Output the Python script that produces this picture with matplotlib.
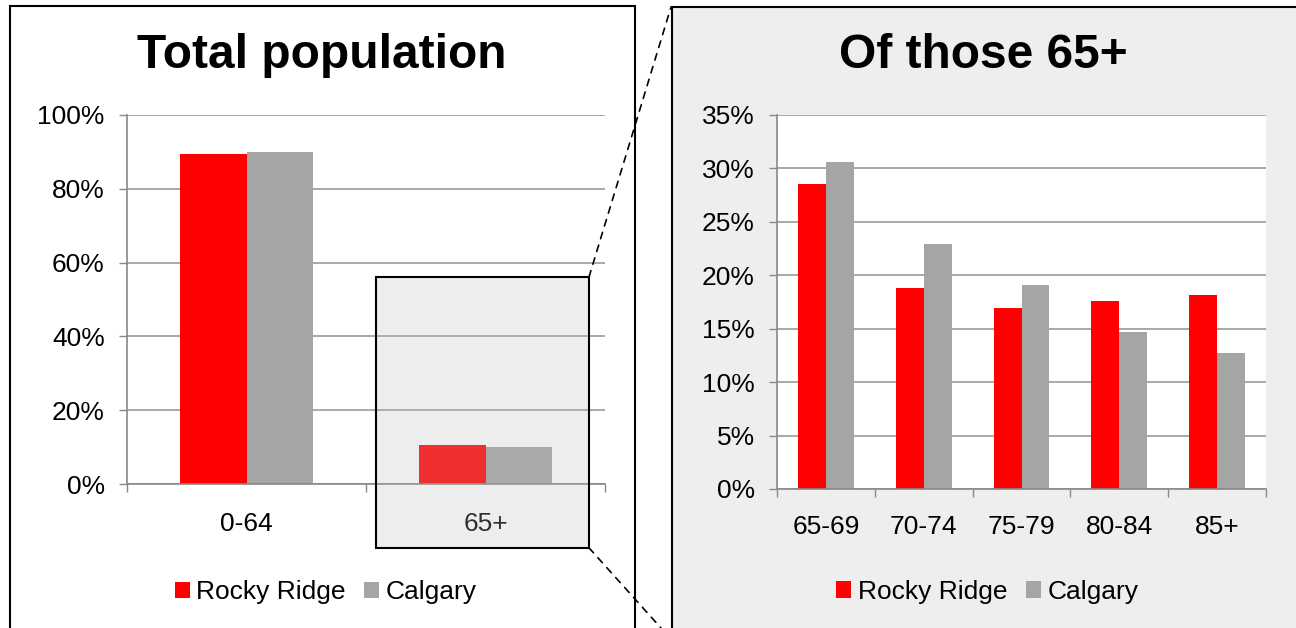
import matplotlib
matplotlib.use("Agg")
import matplotlib.pyplot as plt
from matplotlib.patches import Rectangle, ConnectionPatch
from matplotlib.ticker import PercentFormatter, FixedLocator
import numpy as np

plt.rcParams["font.family"] = ["Liberation Sans", "DejaVu Sans"]

# data
series = ["Rocky Ridge", "Calgary"]
colors = ["#FF0000", "#A5A5A5"]

total_groups = ["0-64", "65+"]
total_rocky = [89.5, 10.5]
total_calgary = [90.0, 10.0]

senior_groups = ["65-69", "70-74", "75-79", "80-84", "85+"]
senior_rocky = [28.5, 18.8, 16.9, 17.6, 18.2]
senior_calgary = [30.6, 22.9, 19.1, 14.7, 12.7]

W, H = 1296, 628
fig = plt.figure(figsize=(W / 100, H / 100), dpi=100)


def px_axes(x0, y0, x1, y1):
    return fig.add_axes([x0 / W, 1 - y1 / H, (x1 - x0) / W, (y1 - y0) / H])


def fig_rect(x0, y0, x1, y1, **kw):
    r = Rectangle((x0 / W, 1 - y1 / H), (x1 - x0) / W, (y1 - y0) / H,
                  transform=fig.transFigure, zorder=-5, **kw)
    fig.add_artist(r)


# panel frames
fig_rect(10, 6, 635, 650, facecolor="white", edgecolor="black", lw=1.5)
fig_rect(672, 7, 1310, 650, facecolor="#EEEEEE", edgecolor="black", lw=1.5)


def style_bars(ax, groups, rocky, calgary, ymax, step, tick_pad, leg_x, leg_y):
    x = np.arange(len(groups))
    bw = 0.28 if len(groups) == 2 else 0.285
    ax.bar(x - bw / 2, rocky, bw, color=colors[0], label=series[0], zorder=2)
    ax.bar(x + bw / 2, calgary, bw, color=colors[1], label=series[1], zorder=2)
    ax.set_xlim(-0.5, len(groups) - 0.5)
    ax.set_ylim(0, ymax)
    ax.set_yticks(np.arange(0, ymax + 0.1, step))
    ax.yaxis.set_major_formatter(PercentFormatter(xmax=100, decimals=0))
    ax.set_xticks(x)
    ax.set_xticklabels(groups)
    ax.xaxis.set_minor_locator(FixedLocator(np.arange(-0.5, len(groups), 1.0)))
    ax.tick_params(axis="x", which="major", length=0, pad=tick_pad, labelsize=19)
    ax.tick_params(axis="x", which="minor", length=6, width=1, color="#888888")
    ax.tick_params(axis="y", length=6, width=1, color="#888888", pad=10, labelsize=19)
    ax.grid(axis="y", color="#999999", lw=1.2, zorder=1)
    ax.set_axisbelow(True)
    for s in ["top", "right"]:
        ax.spines[s].set_visible(False)
    for s in ["left", "bottom"]:
        ax.spines[s].set_color("#888888")
        ax.spines[s].set_linewidth(1.2)
    ax.set_facecolor("white")
    ax.legend(loc="center", bbox_to_anchor=(leg_x, leg_y), ncol=2, frameon=False,
              fontsize=19, handlelength=0.56, handleheight=0.56,
              handletextpad=0.25, columnspacing=0.7, borderaxespad=0)


ax1 = px_axes(127, 115, 605, 484)
style_bars(ax1, total_groups, total_rocky, total_calgary, 100, 20, 20, 0.416, -0.293)

ax2 = px_axes(777, 115, 1266, 489)
style_bars(ax2, senior_groups, senior_rocky, senior_calgary, 35, 5, 19, 0.43, -0.275)

fig.text(322 / W, 1 - 56 / H, "Total population", ha="center", va="center",
         fontsize=34.5, fontweight="bold")
fig.text(983 / W, 1 - 56 / H, "Of those 65+", ha="center", va="center",
         fontsize=34.5, fontweight="bold")

# highlight box around 65+ (semi-transparent overlay)
bx0, bx1, by0, by1 = 0.542, 1.433, -17.3, 56.1
ax1.add_patch(Rectangle((bx0, by0), bx1 - bx0, by1 - by0,
                        facecolor=(0.737, 0.737, 0.737, 0.255), edgecolor="black",
                        lw=1.5, clip_on=False, zorder=5))

# dashed zoom lines to the right panel
for (xa, ya), (xb, yb) in [((bx1, by1), (671, 7)), ((bx1, by0), (661, 628))]:
    con = ConnectionPatch(xyA=(xa, ya), coordsA="data", axesA=ax1,
                          xyB=(xb / W, 1 - yb / H), coordsB="figure fraction",
                          linestyle=(0, (4, 4)), color="black", lw=1.2)
    con.set_annotation_clip(False)
    fig.add_artist(con)

fig.savefig("out.png", dpi=100)
